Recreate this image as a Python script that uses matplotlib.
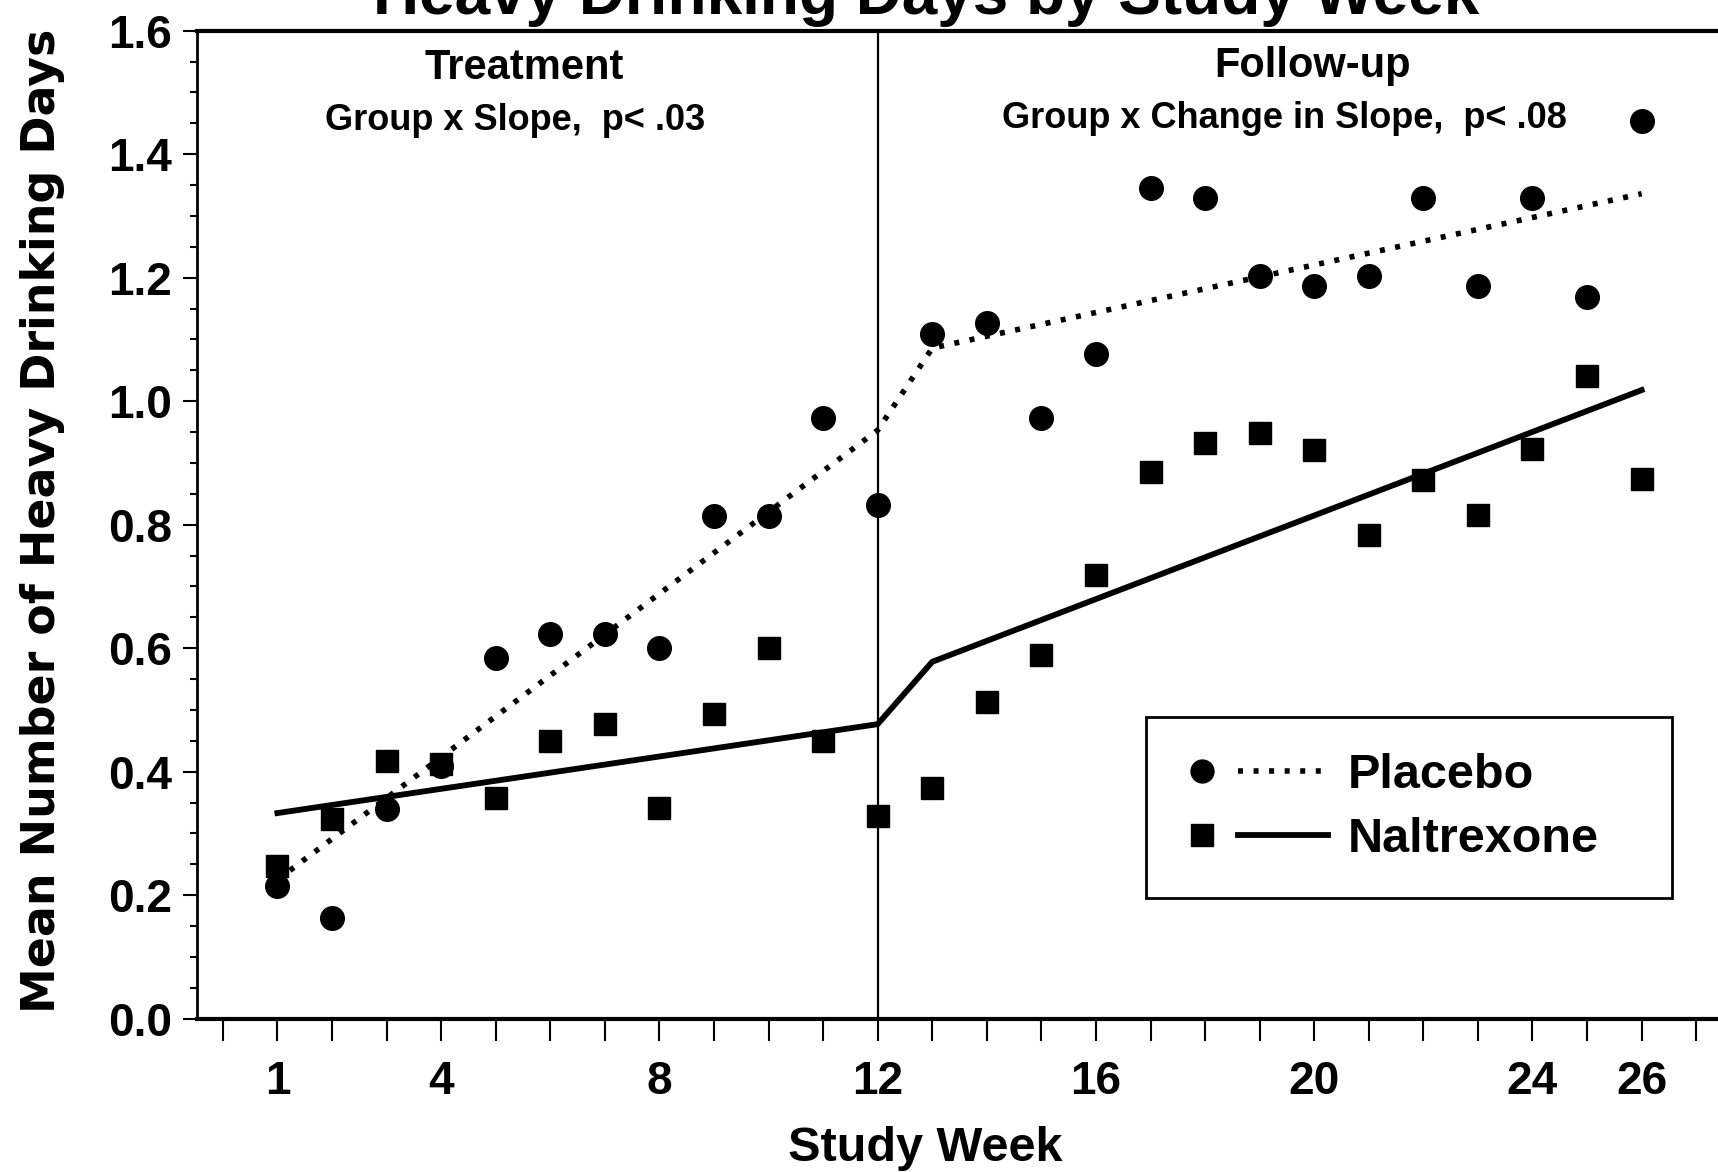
import matplotlib
matplotlib.use("Agg")
import matplotlib.pyplot as plt
from matplotlib.lines import Line2D
from matplotlib.legend_handler import HandlerBase
import numpy as np

weeks = list(range(1, 27))
placebo = [0.215, 0.163, 0.34, 0.41, 0.584, 0.623, 0.623, 0.60, 0.814, 0.814, 0.972, 0.832,
           1.109, 1.126, 0.972, 1.077, 1.345, 1.329, 1.203, 1.187, 1.203, 1.329, 1.187, 1.329, 1.169, 1.453]
naltrexone = [0.248, 0.323, 0.417, 0.413, 0.358, 0.449, 0.477, 0.342, 0.493, 0.60, 0.45, 0.328,
              0.374, 0.513, 0.589, 0.718, 0.885, 0.933, 0.949, 0.921, 0.784, 0.873, 0.816, 0.922, 1.041, 0.874]
fit_weeks = [1, 12, 13, 26]
placebo_fit = [0.225, 0.953, 1.086, 1.336]
naltrexone_fit = [0.333, 0.477, 0.578, 1.018]
xtick_labels = {1: "1", 4: "4", 8: "8", 12: "12", 16: "16", 20: "20", 24: "24", 26: "26"}

DOT = (0, (0.9, 1.9))
plt.rcParams['font.family'] = ['Liberation Sans', 'DejaVu Sans']
fig = plt.figure(figsize=(17.18, 11.72), dpi=100)
ax = fig.add_axes([0.1148, 0.1308, 0.8852, 0.843])
ax.set_xlim(-0.47, 27.4)
ax.set_ylim(0, 1.6)

ax.plot(fit_weeks, placebo_fit, color='black', lw=4.0, linestyle=DOT, zorder=2)
ax.plot(fit_weeks, naltrexone_fit, color='black', lw=4.2, linestyle='-', zorder=2)
ax.plot(weeks, placebo, 'o', color='black', ms=17, zorder=3)
ax.plot(weeks, naltrexone, 's', color='black', ms=16.5, zorder=3)
ax.axvline(12, color='black', lw=1.6, zorder=1)

ax.spines['right'].set_visible(False)
ax.spines['left'].set_linewidth(2)
ax.spines['bottom'].set_linewidth(3)
ax.spines['top'].set_linewidth(3)

ax.set_xticks(range(0, 28))
ax.set_xticklabels([xtick_labels.get(w, "") for w in range(0, 28)])
ax.tick_params(axis='x', direction='out', length=16, width=1.5, pad=14, labelsize=33)
ax.set_yticks(np.arange(0, 1.61, 0.2))
ax.set_yticklabels([f"{v:.1f}" for v in np.arange(0, 1.61, 0.2)])
ax.set_yticks(np.arange(0, 1.61, 0.05), minor=True)
ax.tick_params(axis='y', which='major', direction='out', length=10, width=1.5, pad=8, labelsize=33)
ax.tick_params(axis='y', which='minor', direction='out', length=5, width=1.5)
for lab in ax.get_xticklabels() + ax.get_yticklabels():
    lab.set_fontweight('bold')

ax.set_xlabel("Study Week", fontsize=35, fontweight='bold')
ax.xaxis.set_label_coords(0.479, -0.109)
ax.set_ylabel("Mean Number of Heavy Drinking Days", fontsize=33, fontweight='bold',
              family=['DejaVu Sans'])
ax.yaxis.set_label_coords(-0.087, 0.504)

ax.text(5.52, 1.54, "Treatment", ha='center', va='center', fontsize=30, fontweight='bold')
ax.text(5.36, 1.455, "Group x Slope,  p< .03", ha='center', va='center', fontsize=26, fontweight='bold')
ax.text(19.96, 1.543, "Follow-up", ha='center', va='center', fontsize=30, fontweight='bold')
ax.text(19.45, 1.458, "Group x Change in Slope,  p< .08", ha='center', va='center', fontsize=26, fontweight='bold')

fig.text(0.539, 0.988, "Heavy Drinking Days by Study Week", ha='center', va='baseline',
         fontsize=46, fontweight='bold')


class MarkerLineHandler(HandlerBase):
    def create_artists(self, legend, orig_handle, xdescent, ydescent, width, height, fontsize, trans):
        mk, ms, ls, lw = orig_handle
        y = height / 2 - ydescent
        m = Line2D([0.13 * width - xdescent], [y], marker=mk, ms=ms, color='black', ls='none',
                   transform=trans)
        ln = Line2D([0.38 * width - xdescent, width - xdescent], [y, y], color='black', lw=lw,
                    linestyle=ls, transform=trans)
        return [m, ln]


h1 = ('o', 16.5, DOT, 4.0)
h2 = ('s', 15.5, '-', 4.2)
leg = ax.legend([h1, h2], ["Placebo", "Naltrexone"],
                handler_map={tuple: MarkerLineHandler()},
                loc='lower left', bbox_to_anchor=(0.624, 0.122, 0.346, 0.183), mode='expand',
                borderaxespad=0, fancybox=False, edgecolor='black', framealpha=1, borderpad=0.75,
                handlelength=3.0, handletextpad=0.4, labelspacing=0.38,
                prop={'size': 35, 'weight': 'bold'})
leg.get_frame().set_linewidth(2)

fig.savefig("out.png", dpi=100)
